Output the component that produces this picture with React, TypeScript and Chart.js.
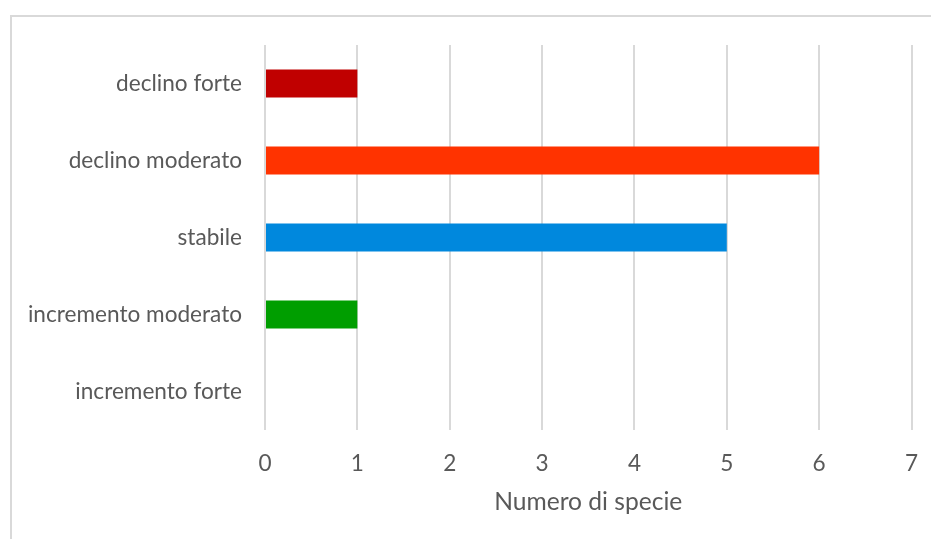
import React, { useEffect, useRef } from "react";
import { Chart, registerables } from "chart.js";

Chart.register(...registerables);

// Trend categories, top to bottom
const categories: string[] = [
  "declino forte",
  "declino moderato",
  "stabile",
  "incremento moderato",
  "incremento forte",
];

// Number of species in each trend category
const speciesCount: number[] = [1, 6, 5, 1, 0];

// Axis scale
const xMin = 0;
const xMax = 7;
const xStep = 1;
const xTitle = "Numero di specie";

const barColors: string[] = ["#C00000", "#FF3300", "#0088DD", "#009E00", "#009E00"];

const FONT_FAMILY = "Lato, 'Open Sans', sans-serif";
const TEXT_COLOR = "#595959";
const GRID_COLOR = "#D9D9D9";

export default function App() {
  const canvasRef = useRef<HTMLCanvasElement | null>(null);

  useEffect(() => {
    const canvas = canvasRef.current;
    if (!canvas) return;

    const chart = new Chart(canvas, {
      type: "bar",
      data: {
        labels: categories,
        datasets: [
          {
            data: speciesCount,
            backgroundColor: barColors,
            borderWidth: 0,
            categoryPercentage: 1,
            barPercentage: 0.364,
          },
        ],
      },
      options: {
        indexAxis: "y",
        animation: false,
        responsive: false,
        maintainAspectRatio: false,
        layout: { padding: { top: 45, right: 19.5, bottom: 0, left: 0 } },
        plugins: {
          legend: { display: false },
          tooltip: { enabled: false },
        },
        scales: {
          x: {
            min: xMin,
            max: xMax,
            ticks: {
              stepSize: xStep,
              padding: 20,
              color: TEXT_COLOR,
              font: { family: FONT_FAMILY, size: 22.6 },
            },
            grid: {
              color: GRID_COLOR,
              lineWidth: 2,
              drawTicks: false,
            },
            border: { display: false },
            title: {
              display: true,
              text: xTitle,
              color: TEXT_COLOR,
              font: { family: FONT_FAMILY, size: 24.6 },
              padding: { top: 0, bottom: 22.5 },
            },
            afterFit: (scale: any) => {
              scale.height = 109;
              // edge labels may overhang the plot; the layout padding covers them
              scale.paddingLeft = 0;
              scale.paddingRight = 0;
            },
          },
          y: {
            ticks: {
              padding: 23,
              color: TEXT_COLOR,
              font: { family: FONT_FAMILY, size: 22.6 },
            },
            grid: { display: false, drawTicks: false },
            border: { display: false },
            afterFit: (scale: any) => {
              scale.width = 265;
            },
          },
        },
      },
    });

    return () => chart.destroy();
  }, []);

  return (
    <div
      style={{
        position: "fixed",
        left: 0,
        top: 0,
        width: 931,
        height: 539,
        overflow: "hidden",
        background: "#FFFFFF",
      }}
    >
      <div
        style={{
          position: "absolute",
          left: 10,
          top: 15,
          width: 1000,
          height: 1000,
          border: `2px solid ${GRID_COLOR}`,
          boxSizing: "border-box",
        }}
      />
      <canvas
        ref={canvasRef}
        width={931}
        height={539}
        style={{ position: "absolute", left: 0, top: 0, width: 931, height: 539 }}
      />
    </div>
  );
}
